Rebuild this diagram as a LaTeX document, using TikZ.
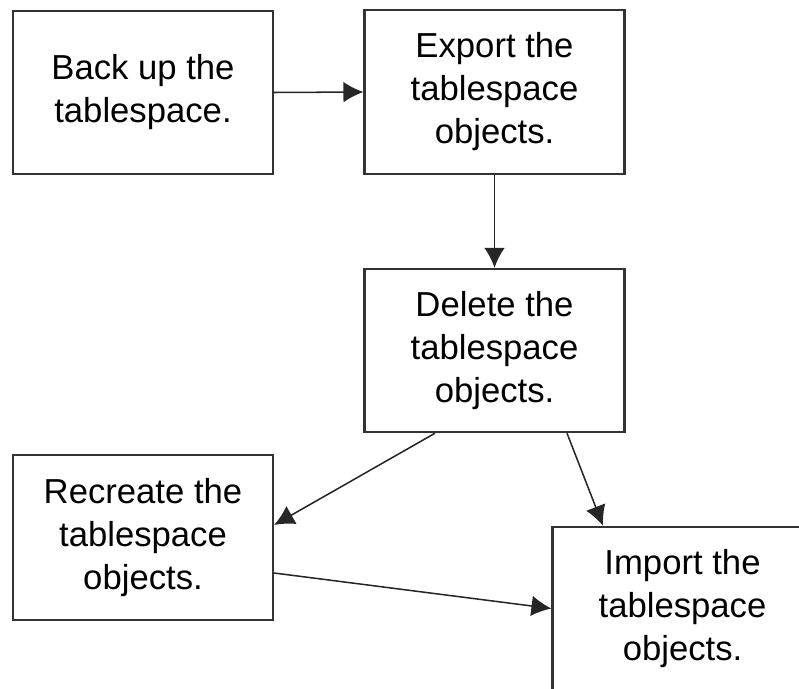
\documentclass[tikz,border=0pt]{standalone}
\usepackage{fontspec}
\setmainfont{Liberation Sans}
\usepackage{tikz}
\usetikzlibrary{arrows.meta,positioning}

\begin{document}
\begin{tikzpicture}[>=Latex,
  stepbox/.style={draw=black!80,line width=1.8pt,fill=white,minimum width=7.8cm,minimum height=4.9cm,align=center,font=\fontsize{29.6}{36.7}\selectfont,inner sep=2pt},
  flow/.style={draw=black!85,line width=1.3pt,-{Latex[length=6mm,width=6.2mm]}}]
\useasboundingbox (0,0) rectangle (23.97,-20.64);
\clip (0,0) rectangle (23.97,-20.64);
\node[stepbox] (st1) at (4.29,-2.775) {Back up the\\tablespace.};
\node[stepbox] (st2) at (14.835,-2.76) {Export the\\tablespace\\objects.};
\node[stepbox] (st3) at (14.835,-10.515) {Delete the\\tablespace\\objects.};
\node[stepbox,minimum height=4.95cm] (st4) at (4.29,-16.125) {Recreate the\\tablespace\\objects.};
\node[stepbox] (st5) at (20.475,-18.255) {Import the\\tablespace\\objects.};
\draw[flow] (st1.east)--(st2.west);
\draw[flow] (st2.south)--(st3.north);
\draw[flow] ([xshift=-1.785cm]st3.south)--([yshift=0.375cm]st4.east);
\draw[flow] ([xshift=2.175cm]st3.south)--([xshift=-2.385cm]st5.north);
\draw[flow] ([yshift=-1.065cm]st4.east)--(st5.west);
\end{tikzpicture}
\end{document}
